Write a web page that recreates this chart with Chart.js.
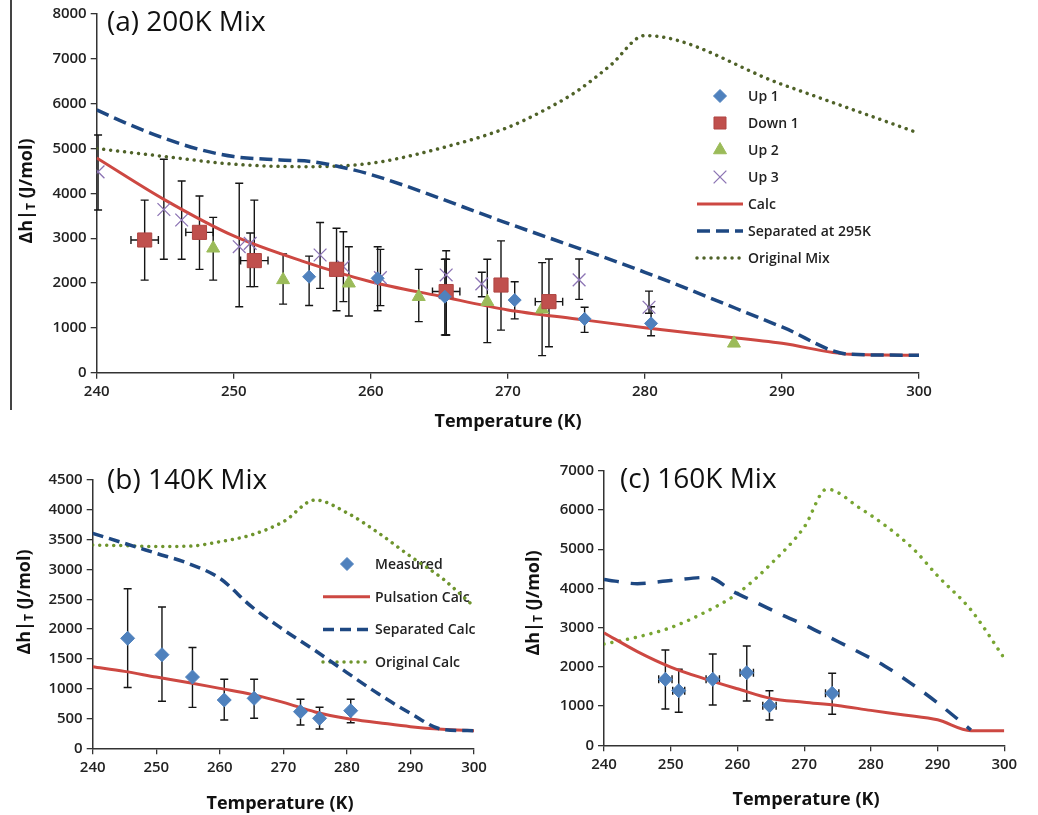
<!DOCTYPE html>
<html>
<head>
<meta charset="utf-8">
<script src="https://cdn.jsdelivr.net/npm/chart.js@4"></script>
<style>
body { margin:0; background:#fff; width:1038px; height:815px; position:relative; overflow:hidden; font-family:'Open Sans', sans-serif; color:#111; }
canvas { position:absolute; }
.ttl { position:absolute; font-size:28px; line-height:28px; white-space:nowrap; color:#111; }
.xt { position:absolute; width:200px; text-align:center; font-weight:700; font-size:18px; line-height:20px; white-space:nowrap; color:#111; }
.yt { position:absolute; width:160px; height:22px; text-align:center; font-weight:700; font-size:18px; line-height:22px; white-space:nowrap; transform:rotate(-90deg); color:#111; }
.yt sub { font-size:12px; vertical-align:-3px; }
.edge { position:absolute; left:10px; top:0; width:1.5px; height:410px; background:#444; }
</style>
</head>
<body>
<div class="edge"></div>
<canvas id="chartA" width="1038" height="440" style="left:0;top:0"></canvas>
<canvas id="chartB" width="500" height="375" style="left:0;top:440px"></canvas>
<canvas id="chartC" width="538" height="375" style="left:500px;top:440px"></canvas>

<div class="ttl" style="left:107px;top:6px">(a) 200K Mix</div>
<div class="ttl" style="left:107px;top:464px">(b) 140K Mix</div>
<div class="ttl" style="left:620px;top:463px">(c) 160K Mix</div>

<div class="yt" style="left:-55px;top:180px">&Delta;h|<sub>T</sub> (J/mol)</div>
<div class="yt" style="left:-57px;top:591px">&Delta;h|<sub>T</sub> (J/mol)</div>
<div class="yt" style="left:452px;top:592px">&Delta;h|<sub>T</sub> (J/mol)</div>

<div class="xt" style="left:408px;top:410px">Temperature (K)</div>
<div class="xt" style="left:180px;top:792px">Temperature (K)</div>
<div class="xt" style="left:706px;top:788px">Temperature (K)</div>

<script>
// temperature grid used by the calculated curves
const tGrid = [240, 245, 250, 255, 260, 265, 270, 275, 280, 285, 290, 295, 300];

// ---- (a) 200K Mix ----
const aUp1T  = [255.5, 260.5, 265.4, 270.5, 275.6, 280.45];
const aUp1   = [2140, 2105, 1695, 1620, 1200, 1100];
const aUp1Lo = [1500, 1380, 840, 1200, 900, 825];
const aUp1Hi = [2600, 2810, 2530, 2030, 1460, 1470];

const aDownT  = [243.5, 247.5, 251.5, 257.5, 265.5, 269.5, 273];
const aDown   = [2960, 3130, 2500, 2305, 1810, 1955, 1585];
const aDownLo = [2065, 2305, 1920, 1380, 840, 950, 580];
const aDownHi = [3850, 3940, 3850, 3220, 2720, 2940, 2535];
const aDownXe = [1, 1, 1, 0, 1, 0, 1];

const aUp2T  = [248.5, 253.6, 258.4, 263.5, 268.5, 272.5, 286.5];
const aUp2   = [2775, 2070, 1995, 1695, 1585, 1415, 655];
const aUp2Lo = [2065, 1530, 1265, 1140, 670, 380, null];
const aUp2Hi = [3465, 2650, 2810, 2305, 2530, 2455, null];

const aUp3T  = [240.1, 244.9, 246.2, 250.4, 251.2, 256.3, 258, 260.7, 265.5, 268.1, 275.2, 280.3];
const aUp3   = [4480, 3640, 3405, 2810, 2885, 2625, 2365, 2120, 2180, 1980, 2070, 1460];
const aUp3Lo = [3630, 2530, 2530, 1470, 1920, 1880, 1585, 1495, 840, 1695, 1635, 1325];
const aUp3Hi = [5300, 4760, 4275, 4225, 3115, 3350, 3145, 2750, 2530, 2240, 2535, 1820];

const aCalc = [4790, 3850, 3050, 2490, 2030, 1710, 1400, 1200, 1005, 830, 655, 410, 390];
const aSepT = [240, 242.5, 245, 247.5, 250, 253.4, 255.8, 257.7, 260, 270, 280, 290, 295, 300];
const aSep  = [5860, 5520, 5220, 4980, 4820, 4745, 4705, 4595, 4420, 3330, 2240, 1020, 410, 390];
const aMixT = [240, 245, 250, 255, 260, 265, 270, 272.5, 275, 277.5, 280, 290, 300];
const aMix  = [5000, 4820, 4650, 4595, 4670, 5000, 5470, 5830, 6270, 6860, 7520, 6430, 5340];

// ---- (b) 140K Mix ----
const bT    = [245.5, 250.9, 255.7, 260.7, 265.4, 272.7, 275.7, 280.6];
const bMeas = [1845, 1570, 1195, 810, 838, 614, 503, 631];
const bLo   = [1020, 790, 687, 475, 503, 391, 324, 429];
const bHi   = [2675, 2370, 1690, 1157, 1157, 822, 688, 822];
const bCalc = [1369, 1290, 1195, 1105, 1005, 905, 770, 610, 500, 430, 363, 319, 295];
const bSep  = [3605, 3438, 3270, 3102, 2851, 2375, 1990, 1640, 1270, 910, 587, 319, 295];
const bOrig = [3409, 3400, 3385, 3390, 3465, 3580, 3800, 4164, 3950, 3610, 3220, 2850, 2380];

// ---- (c) 160K Mix ----
const cT    = [249.2, 251.2, 256.3, 261.4, 264.8, 274.2];
const cMeas = [1682, 1392, 1682, 1851, 1010, 1325];
const cLo   = [925, 841, 1027, 1129, 645, 790];
const cHi   = [2429, 1937, 2327, 2531, 1392, 1835];
const cXe   = [1, 0.9, 1, 1, 1, 1];
const cCalc = [2870, 2390, 1995, 1700, 1440, 1195, 1100, 1015, 890, 775, 650, 373, 373];
const cSepT = [240, 245, 250, 255.6, 259.4, 262.9, 266.4, 270.4, 274.1, 277.8, 282, 286, 290, 295];
const cSep  = [4230, 4120, 4200, 4282, 3915, 3635, 3347, 3041, 2727, 2411, 2030, 1580, 1080, 390];
const cOrigT = [240, 245, 250, 255, 260, 265, 270, 273.4, 278.4, 282.4, 286.4, 290, 295, 300];
const cOrig  = [2580, 2760, 3000, 3380, 3870, 4620, 5560, 6530, 6041, 5572, 5000, 4320, 3450, 2218];

function pts(xs, ys) {
	return xs.map((x, i) => ({x: x, y: ys[i]}));
}

Chart.defaults.font.family = "'Open Sans', sans-serif";

// vertical (and horizontal) error bars, drawn under the markers
const errorBars = {
	id: 'errorBars',
	beforeDatasetsDraw(chart) {
		const ctx = chart.ctx, xs = chart.scales.x, ys = chart.scales.y;
		ctx.save();
		ctx.strokeStyle = '#151515';
		ctx.lineWidth = 1.4;
		chart.data.datasets.forEach(ds => {
			if (!ds.errLo) return;
			ds.data.forEach((p, i) => {
				const px = xs.getPixelForValue(p.x), py = ys.getPixelForValue(p.y);
				ctx.beginPath();
				if (ds.errLo[i] != null) {
					const lo = ys.getPixelForValue(ds.errLo[i]), hi = ys.getPixelForValue(ds.errHi[i]);
					ctx.moveTo(px, lo); ctx.lineTo(px, hi);
					ctx.moveTo(px - 4, lo); ctx.lineTo(px + 4, lo);
					ctx.moveTo(px - 4, hi); ctx.lineTo(px + 4, hi);
				}
				if (ds.errX && ds.errX[i]) {
					const l = xs.getPixelForValue(p.x - ds.errX[i]), r = xs.getPixelForValue(p.x + ds.errX[i]);
					ctx.moveTo(l, py); ctx.lineTo(r, py);
					ctx.moveTo(l, py - 4); ctx.lineTo(l, py + 4);
					ctx.moveTo(r, py - 4); ctx.lineTo(r, py + 4);
				}
				ctx.stroke();
			});
		});
		ctx.restore();
	}
};

// legend placed inside the plot like the original
const sideLegend = {
	id: 'sideLegend',
	beforeDatasetsDraw(chart, args, o) {
		if (!o.show) return;
		const ctx = chart.ctx;
		ctx.save();
		ctx.font = '600 14px "Open Sans"';
		ctx.textBaseline = 'middle';
		chart.data.datasets.forEach((ds, i) => {
			const y = o.top + i * o.gap;
			if (ds.showLine) {
				ctx.beginPath();
				ctx.strokeStyle = ds.borderColor;
				ctx.lineWidth = ds.borderWidth;
				ctx.setLineDash(ds.borderDash || []);
				ctx.lineCap = ds.borderCapStyle || 'butt';
				ctx.moveTo(o.lineX0, y); ctx.lineTo(o.lineX1, y);
				ctx.stroke();
				ctx.setLineDash([]);
				ctx.lineCap = 'butt';
			} else {
				ctx.fillStyle = ds.backgroundColor;
				ctx.strokeStyle = ds.borderColor;
				ctx.lineWidth = ds.borderWidth;
				Chart.helpers.drawPoint(ctx, {pointStyle: ds.pointStyle, radius: ds.legendRadius || ds.pointRadius, borderWidth: ds.borderWidth, rotation: 0}, o.markX, y);
			}
			ctx.fillStyle = '#222';
			ctx.fillText(ds.label, o.textX, y + 1);
		});
		ctx.restore();
	}
};

function axisStyle() {
	return {
		grid: {drawOnChartArea: false, drawTicks: true, tickLength: 6, color: '#333', lineWidth: 1.3},
		border: {display: true, color: '#333', width: 1.5}
	};
}

function panel(id, w, h, area, yMax, yStep, datasets, legend) {
	return new Chart(document.getElementById(id), {
		type: 'scatter',
		data: {datasets: datasets},
		options: {
			responsive: false,
			animation: false,
			devicePixelRatio: 1,
			layout: {padding: {left: 0, top: area.top, right: w - area.right, bottom: 0}},
			plugins: {legend: {display: false}, tooltip: {enabled: false}, sideLegend: legend},
			scales: {
				x: Object.assign(axisStyle(), {
					type: 'linear', min: 240, max: 300,
					ticks: {stepSize: 10, padding: 4, color: '#222', font: {size: 15, weight: '600'}, callback: v => String(v)},
					afterFit: s => { s.height = h - area.bottom; }
				}),
				y: Object.assign(axisStyle(), {
					min: 0, max: yMax,
					ticks: {stepSize: yStep, padding: 4, color: '#222', font: {size: 15, weight: '600'}, callback: v => String(v)},
					afterFit: s => { s.width = area.left; }
				})
			}
		},
		plugins: [errorBars, sideLegend]
	});
}

const redLine = 'rgb(205,72,66)';
const blueDash = 'rgb(30,72,130)';

function calcLine(label, xs, ys) {
	return {label: label, data: pts(xs, ys), showLine: true, pointRadius: 0, borderColor: redLine, borderWidth: 3,
		cubicInterpolationMode: 'monotone', fill: false, order: 2};
}
function dashLine(label, xs, ys, dash) {
	return {label: label, data: pts(xs, ys), showLine: true, pointRadius: 0, borderColor: blueDash, borderWidth: 3.5,
		borderDash: dash, cubicInterpolationMode: 'monotone', fill: false, order: 1};
}
function dotLine(label, xs, ys, color, gap) {
	return {label: label, data: pts(xs, ys), showLine: true, pointRadius: 0, borderColor: color, borderWidth: 3.5,
		borderDash: [0.01, gap], borderCapStyle: 'round', cubicInterpolationMode: 'monotone', fill: false, order: 3};
}

panel('chartA', 1038, 440, {left: 96.7, right: 919, top: 14, bottom: 372.7}, 8000, 1000, [
	{label: 'Up 1', data: pts(aUp1T, aUp1), errLo: aUp1Lo, errHi: aUp1Hi, pointStyle: 'rectRot', pointRadius: 6.5,
		backgroundColor: '#4F81BD', borderColor: '#4F81BD', borderWidth: 1, order: 0},
	{label: 'Down 1', data: pts(aDownT, aDown), errLo: aDownLo, errHi: aDownHi, errX: aDownXe, pointStyle: 'rect', pointRadius: 10,
		legendRadius: 8.5, backgroundColor: '#C0504D', borderColor: '#B04542', borderWidth: 1, order: 0},
	{label: 'Up 2', data: pts(aUp2T, aUp2), errLo: aUp2Lo, errHi: aUp2Hi, pointStyle: 'triangle', pointRadius: 7.5,
		backgroundColor: '#9BBB59', borderColor: '#9BBB59', borderWidth: 1, order: 0},
	{label: 'Up 3', data: pts(aUp3T, aUp3), errLo: aUp3Lo, errHi: aUp3Hi, pointStyle: 'crossRot', pointRadius: 9,
		backgroundColor: '#8C74B4', borderColor: '#8C74B4', borderWidth: 1.3, order: 0},
	calcLine('Calc', tGrid, aCalc),
	dashLine('Separated at 295K', aSepT, aSep, [13, 6]),
	dotLine('Original Mix', aMixT, aMix, 'rgb(79,98,40)', 7)
], {show: true, top: 96, gap: 27, markX: 720, textX: 748, lineX0: 697, lineX1: 743});

panel('chartB', 500, 375, {left: 92.7, right: 474, top: 40, bottom: 308.3}, 4500, 500, [
	{label: 'Measured', data: pts(bT, bMeas), errLo: bLo, errHi: bHi, pointStyle: 'rectRot', pointRadius: 7,
		legendRadius: 6.5, backgroundColor: '#4F81BD', borderColor: '#4F81BD', borderWidth: 1, order: 0},
	calcLine('Pulsation Calc', tGrid, bCalc),
	dashLine('Separated Calc', tGrid, bSep, [11, 6]),
	dotLine('Original Calc', tGrid, bOrig, 'rgb(110,148,45)', 7)
], {show: true, top: 124, gap: 32.7, markX: 347, textX: 375, lineX0: 323, lineX1: 370});

panel('chartC', 538, 375, {left: 104, right: 504.3, top: 30.7, bottom: 305.3}, 7000, 1000, [
	{label: 'Measured', data: pts(cT, cMeas), errLo: cLo, errHi: cHi, errX: cXe, pointStyle: 'rectRot', pointRadius: 7,
		backgroundColor: '#4F81BD', borderColor: '#4F81BD', borderWidth: 1, order: 0},
	calcLine('Pulsation Calc', tGrid, cCalc),
	dashLine('Separated Calc', cSepT, cSep, [15, 12]),
	dotLine('Original Calc', cOrigT, cOrig, 'rgb(120,165,50)', 8)
], {show: false});
</script>
</body>
</html>
